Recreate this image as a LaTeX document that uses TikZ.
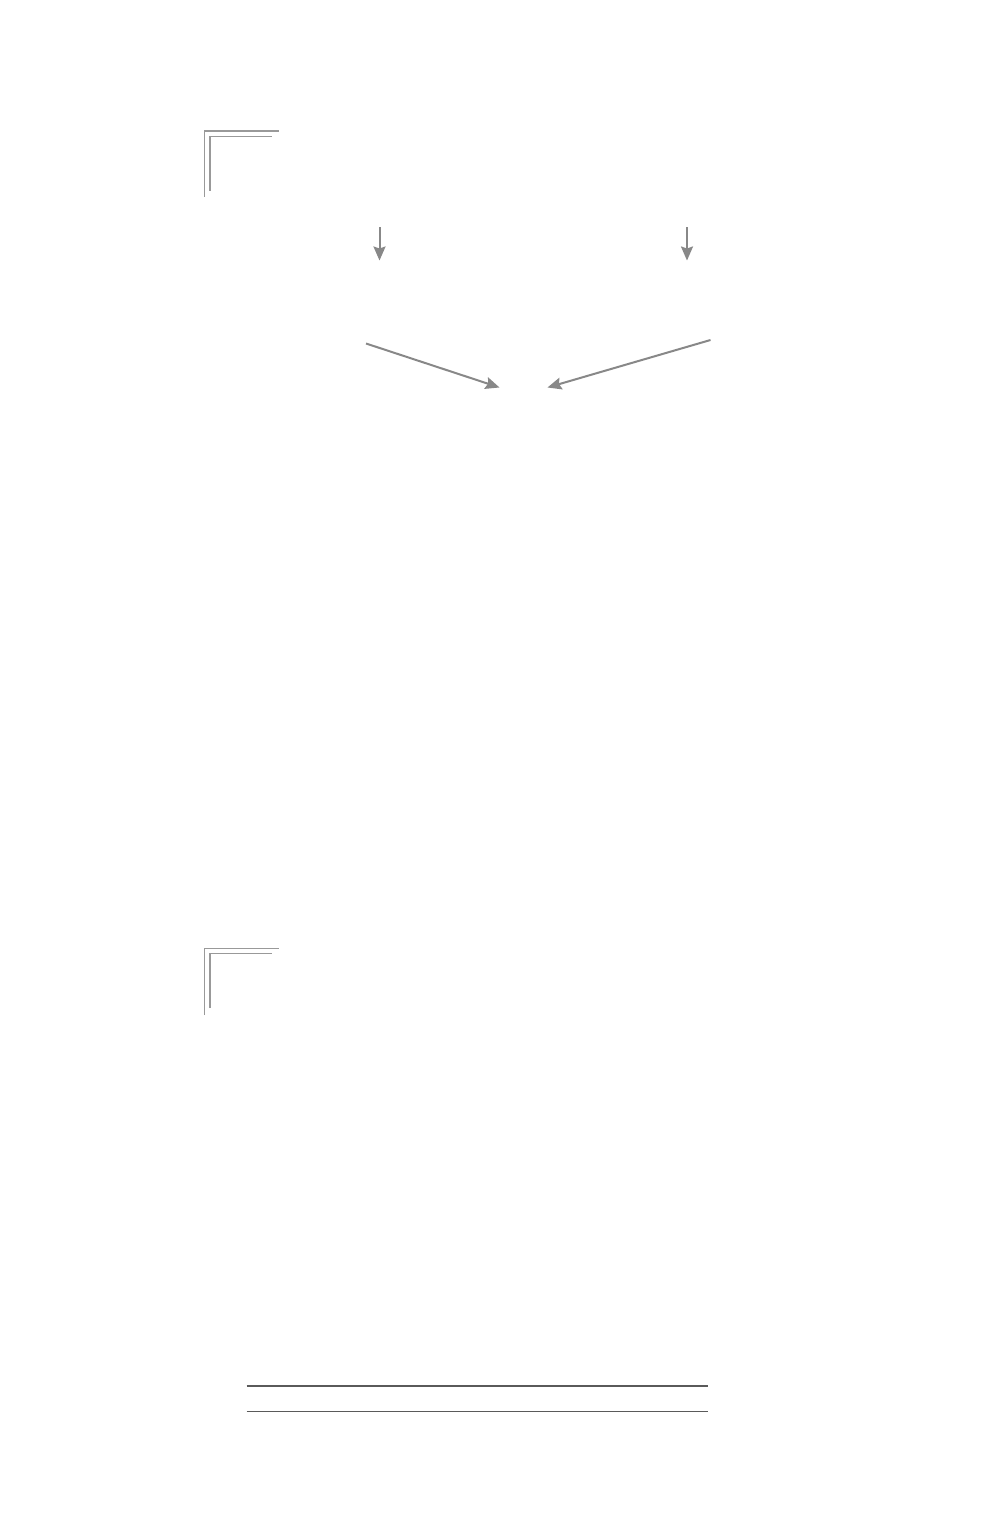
\documentclass[tikz,border=0pt]{standalone}
\usetikzlibrary{arrows.meta}
\definecolor{cornergray}{HTML}{999999}
\definecolor{arrowgray}{HTML}{888888}
\definecolor{rulegray}{HTML}{5A5A5A}
\tikzset{
  corner/.style={draw=cornergray, line width=1.8pt},
  flow/.style={draw=arrowgray, line width=2pt, -{Stealth[length=14pt, width=12pt, inset=2pt]}},
  rulerline/.style={draw=rulegray, line width=1.4pt},
}
\begin{document}
\begin{tikzpicture}[x=1pt, y=-1pt]
\useasboundingbox (0,0) rectangle (1000,1528);
% top corner mark
\draw[corner] (204.5,196.7) -- (204.5,131) -- (279,131);
\draw[corner] (209.6,190.7) -- (209.6,136.5) -- (272,136.5);
% arrows
\coordinate (a1s) at (379.5,227);
\coordinate (a1e) at (379.5,260.5);
\coordinate (a2s) at (687,227);
\coordinate (a2e) at (687,260.5);
\coordinate (d1s) at (366,343.5);
\coordinate (d1e) at (499.5,387.5);
\coordinate (d2s) at (710.5,340);
\coordinate (d2e) at (547.5,387.5);
\draw[flow] (a1s) -- (a1e);
\draw[flow] (a2s) -- (a2e);
\draw[flow] (d1s) -- (d1e);
\draw[flow] (d2s) -- (d2e);
% bottom corner mark
\draw[corner] (204.5,1015) -- (204.5,948.5) -- (279,948.5);
\draw[corner] (209.6,1008) -- (209.6,953.5) -- (272,953.5);
% bottom rules
\coordinate (r1a) at (246.5,1386);
\coordinate (r1b) at (708,1386);
\coordinate (r2a) at (246.5,1411.5);
\coordinate (r2b) at (708,1411.5);
\draw[rulerline] (r1a) -- (r1b);
\draw[rulerline] (r2a) -- (r2b);
\end{tikzpicture}
\end{document}
